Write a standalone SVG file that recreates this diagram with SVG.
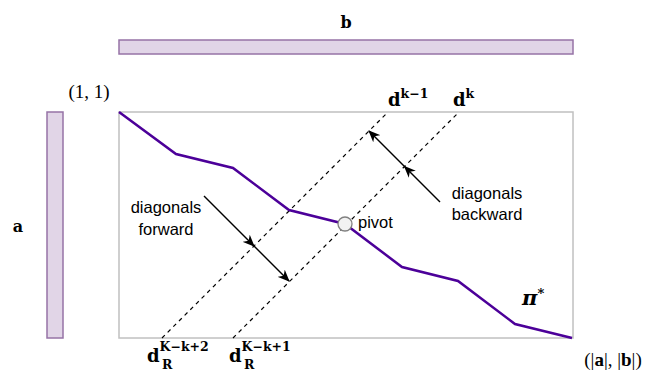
<svg xmlns="http://www.w3.org/2000/svg" width="647" height="374" viewBox="0 0 647 374">
<defs>
<marker id="ah" viewBox="0 0 12 10" refX="11" refY="5" markerWidth="12" markerHeight="10" markerUnits="userSpaceOnUse" orient="auto">
<path d="M0,0 L12,5 L0,10 L3.5,5 Z" fill="#000"/>
</marker>
<style>
.bar{fill:#e1d5e7;stroke:#9673a6;stroke-width:1.5}
.frame{fill:none;stroke:#c0c0c0;stroke-width:1.5}
.path{fill:none;stroke:#4c0099;stroke-width:2.5;stroke-linejoin:miter}
.dash{fill:none;stroke:#000;stroke-width:1.2;stroke-dasharray:4 4}
.arr{fill:none;stroke:#000;stroke-width:1.4;marker-mid:url(#ah);marker-end:url(#ah)}
.lbl{font-family:"Liberation Sans",Arial,sans-serif;font-size:16.5px;fill:#000}
.m{font-family:"Liberation Serif","DejaVu Serif",serif;fill:#000}
.mb{font-family:"DejaVu Serif","Liberation Serif",serif;font-weight:bold;fill:#000}
</style>
</defs>
<g id="seqB">
<rect class="bar" x="119" y="40" width="454" height="14"/>
<text class="mb" x="346" y="28" font-size="16" text-anchor="middle">b</text>
</g>
<g id="seqA">
<rect class="bar" x="47" y="112" width="16" height="226"/>
<text class="mb" x="18" y="232" font-size="16" text-anchor="middle">a</text>
</g>
<g id="matrix">
<rect class="frame" x="119" y="112" width="454" height="226"/>
<text class="m" x="89" y="98" font-size="19" text-anchor="middle">(1, 1)</text>
<text class="m" x="613" y="366" font-size="19" text-anchor="middle">(|<tspan font-weight="bold">a</tspan>|, |<tspan font-weight="bold">b</tspan>|)</text>
</g>
<g id="connectors">
<path class="dash" d="M162,338 L388,112"/>
<path class="dash" d="M233,338 L459,112"/>
<path class="path" d="M119,112 L176,154 L233,168 L289,210 L345,224 L402,267 L458,281 L515,324 L572,338"/>
<path class="arr" d="M204,196 L254,246 L289,281"/>
<path class="arr" d="M440,202 L404.5,166.5 L369,131"/>
</g>
<g id="pivot">
<circle cx="345" cy="224" r="7" fill="#f2f2f2" stroke="#808080" stroke-width="1.3"/>
<text class="lbl" x="358" y="228">pivot</text>
</g>
<g id="fwdLabel">
<text class="lbl" x="166" y="213" text-anchor="middle">diagonals</text>
<text class="lbl" x="166" y="235" text-anchor="middle">forward</text>
</g>
<g id="bwdLabel">
<text class="lbl" x="487" y="199" text-anchor="middle">diagonals</text>
<text class="lbl" x="487" y="220" text-anchor="middle">backward</text>
</g>
<g id="dk1">
<text class="mb" x="388" y="106" font-size="18">d<tspan font-size="12.5" dy="-8">k−1</tspan></text>
</g>
<g id="dk">
<text class="mb" x="453" y="106" font-size="18">d<tspan font-size="12.5" dy="-8">k</tspan></text>
</g>
<g id="dR2">
<text class="mb" x="147" y="362" font-size="18">d<tspan font-size="12.5" dy="-11">K−k+2</tspan></text>
<text class="mb" x="162" y="369" font-size="12.5">R</text>
</g>
<g id="dR1">
<text class="mb" x="229" y="362" font-size="18">d<tspan font-size="12.5" dy="-11">K−k+1</tspan></text>
<text class="mb" x="244" y="369" font-size="12.5">R</text>
</g>
<g id="pi">
<text class="mb" x="522" y="305" font-size="21" font-style="italic">π<tspan font-size="13" dy="-7">*</tspan></text>
</g>
</svg>
